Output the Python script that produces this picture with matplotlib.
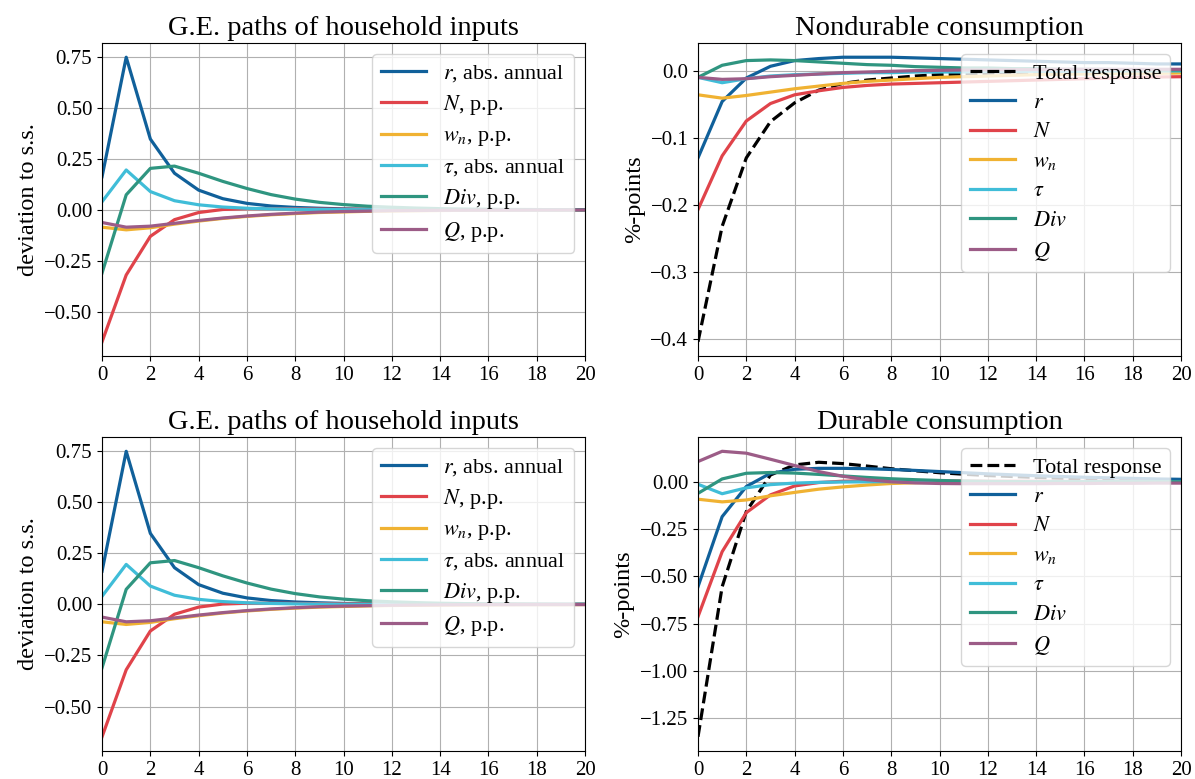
import matplotlib
matplotlib.use("Agg")
import matplotlib.pyplot as plt
from matplotlib.ticker import MultipleLocator

plt.rcParams['font.family'] = ['Liberation Serif', 'DejaVu Serif']
plt.rcParams['mathtext.fontset'] = 'stix'
plt.rcParams['font.size'] = 15
plt.rcParams['legend.fontsize'] = 16
plt.rcParams['legend.labelspacing'] = 0.4

t = list(range(21))

# G.E. paths of household inputs
r_in = [0.163, 0.75, 0.348, 0.18, 0.097, 0.055, 0.032, 0.019, 0.012, 0.008, 0.005,
        0.003, 0.002, 0.0015, 0.001, 0.001, 0.0005, 0.0005, 0.0003, 0.0002, 0.0001]
N_in = [-0.648, -0.32, -0.13, -0.048, -0.013, 0.002, 0.006, 0.006, 0.005, 0.004, 0.003,
        0.003, 0.002, 0.002, 0.001, 0.001, 0.001, 0.001, 0.0, 0.0, 0.0]
wn_in = [-0.085, -0.098, -0.088, -0.07, -0.055, -0.042, -0.032, -0.024, -0.018, -0.013, -0.01,
         -0.007, -0.005, -0.004, -0.003, -0.002, -0.002, -0.001, -0.001, -0.001, -0.0005]
tau_in = [0.04, 0.196, 0.09, 0.045, 0.025, 0.014, 0.008, 0.005, 0.003, 0.002, 0.001,
          0.001, 0.0005, 0.0005, 0.0003, 0.0002, 0.0001, 0.0, 0.0, 0.0, 0.0]
div_in = [-0.31, 0.074, 0.204, 0.215, 0.18, 0.14, 0.105, 0.075, 0.053, 0.037, 0.026,
          0.018, 0.013, 0.009, 0.006, 0.004, 0.003, 0.002, 0.0015, 0.001, 0.001]
Q_in = [-0.062, -0.085, -0.08, -0.066, -0.052, -0.04, -0.03, -0.022, -0.016, -0.011, -0.008,
        -0.006, -0.004, -0.003, -0.002, -0.0015, -0.001, -0.001, -0.0005, -0.0005, -0.0003]

# Nondurable consumption decomposition
tot_nd = [-0.404, -0.232, -0.13, -0.076, -0.048, -0.029, -0.019, -0.014, -0.011, -0.008, -0.006,
          -0.005, -0.004, -0.003, -0.003, -0.002, -0.002, -0.002, -0.001, -0.001, -0.001]
r_nd = [-0.13, -0.046, -0.011, 0.0065, 0.015, 0.018, 0.02, 0.02, 0.02, 0.019, 0.018,
        0.017, 0.016, 0.015, 0.014, 0.013, 0.012, 0.012, 0.011, 0.01, 0.01]
N_nd = [-0.207, -0.127, -0.075, -0.049, -0.036, -0.03, -0.025, -0.022, -0.02, -0.019, -0.018,
        -0.017, -0.016, -0.015, -0.014, -0.013, -0.012, -0.011, -0.01, -0.0095, -0.009]
wn_nd = [-0.036, -0.041, -0.037, -0.032, -0.027, -0.023, -0.019, -0.016, -0.014, -0.012, -0.01,
         -0.009, -0.008, -0.007, -0.006, -0.0055, -0.005, -0.0045, -0.004, -0.004, -0.0035]
tau_nd = [-0.01, -0.018, -0.012, -0.008, -0.006, -0.005, -0.004, -0.003, -0.003, -0.002, -0.002,
          -0.002, -0.001, -0.001, -0.001, -0.001, -0.001, -0.0005, -0.0005, -0.0005, -0.0005]
div_nd = [-0.01, 0.008, 0.015, 0.016, 0.015, 0.013, 0.011, 0.009, 0.008, 0.006, 0.005,
          0.004, 0.004, 0.003, 0.003, 0.002, 0.002, 0.002, 0.001, 0.001, 0.001]
Q_nd = [-0.01, -0.013, -0.012, -0.009, -0.007, -0.005, -0.003, -0.002, -0.001, 0.0, 0.0005,
        0.001, 0.001, 0.0015, 0.0015, 0.002, 0.002, 0.002, 0.002, 0.002, 0.002]

# Durable consumption decomposition
tot_d = [-1.347, -0.555, -0.158, 0.035, 0.088, 0.102, 0.095, 0.082, 0.068, 0.057, 0.047,
         0.039, 0.032, 0.027, 0.022, 0.018, 0.015, 0.013, 0.011, 0.009, 0.008]
r_d = [-0.555, -0.185, -0.026, 0.044, 0.065, 0.07, 0.07, 0.068, 0.064, 0.059, 0.053,
       0.047, 0.041, 0.036, 0.031, 0.027, 0.023, 0.02, 0.017, 0.014, 0.012]
N_d = [-0.713, -0.37, -0.164, -0.07, -0.023, -0.005, 0.002, 0.004, 0.004, 0.004, 0.003,
       0.003, 0.002, 0.002, 0.002, 0.001, 0.001, 0.001, 0.001, 0.0, 0.0]
wn_d = [-0.093, -0.107, -0.097, -0.075, -0.057, -0.04, -0.028, -0.018, -0.01, -0.006, -0.003,
        -0.002, -0.001, -0.001, -0.0005, 0.0, 0.0, 0.0, 0.0, 0.0, 0.0]
tau_d = [-0.014, -0.064, -0.033, -0.016, -0.008, -0.004, -0.002, -0.001, 0.0, 0.0, 0.0,
         0.0, 0.0, 0.0, 0.0, 0.0, 0.0, 0.0, 0.0, 0.0, 0.0]
div_d = [-0.062, 0.014, 0.044, 0.048, 0.045, 0.038, 0.03, 0.022, 0.015, 0.01, 0.006,
         0.003, 0.001, 0.0, -0.001, -0.001, -0.001, -0.001, -0.001, -0.001, -0.001]
Q_d = [0.106, 0.16, 0.15, 0.118, 0.085, 0.053, 0.028, 0.01, -0.001, -0.007, -0.01,
       -0.011, -0.011, -0.011, -0.011, -0.01, -0.01, -0.009, -0.009, -0.008, -0.008]

colors = ['#10609a', '#e0434a', '#f0b232', '#40bdd8', '#2f9580', '#9c5c87']
labels_in = [r'$r$, abs. annual', r'$N$, p.p.', r'$w_n$, p.p.', r'$\tau$, abs. annual',
             r'$Div$, p.p.', r'$Q$, p.p.']
labels_c = [r'$r$', r'$N$', r'$w_n$', r'$\tau$', r'$Div$', r'$Q$']


def panel_inputs(ax):
    series = [r_in, N_in, wn_in, tau_in, div_in, Q_in]
    for y, c, lab in zip(series, colors, labels_in):
        ax.plot(t, y, color=c, lw=2.3, label=lab)
    ax.set_title('G.E. paths of household inputs', fontsize=20.5)
    ax.set_ylabel('deviation to s.s.', fontsize=17.5)
    ax.set_xlim(0, 20)
    ax.set_xticks(range(0, 21, 2))
    ax.yaxis.set_major_locator(MultipleLocator(0.25))
    ax.grid(True)
    ax.legend(loc='upper right')


def panel_cons(ax, total, series, title):
    ax.plot(t, total, 'k--', lw=2.3, label='Total response')
    for y, c, lab in zip(series, colors, labels_c):
        ax.plot(t, y, color=c, lw=2.3, label=lab)
    ax.set_title(title, fontsize=20.5)
    ax.set_ylabel('%-points', fontsize=17.5)
    ax.set_xlim(0, 20)
    ax.set_xticks(range(0, 21, 2))
    ax.grid(True)
    ax.legend(loc='upper right')


fig = plt.figure(figsize=(11.95, 7.79), dpi=100)
ax1 = fig.add_axes([0.0854, 0.543, 0.4042, 0.4018])
ax2 = fig.add_axes([0.5841, 0.543, 0.4042, 0.4018])
ax3 = fig.add_axes([0.0854, 0.0359, 0.4042, 0.4031])
ax4 = fig.add_axes([0.5841, 0.0359, 0.4042, 0.4031])

panel_inputs(ax1)
panel_cons(ax2, tot_nd, [r_nd, N_nd, wn_nd, tau_nd, div_nd, Q_nd], 'Nondurable consumption')
panel_inputs(ax3)
panel_cons(ax4, tot_d, [r_d, N_d, wn_d, tau_d, div_d, Q_d], 'Durable consumption')

fig.savefig('out.png', dpi=100)
